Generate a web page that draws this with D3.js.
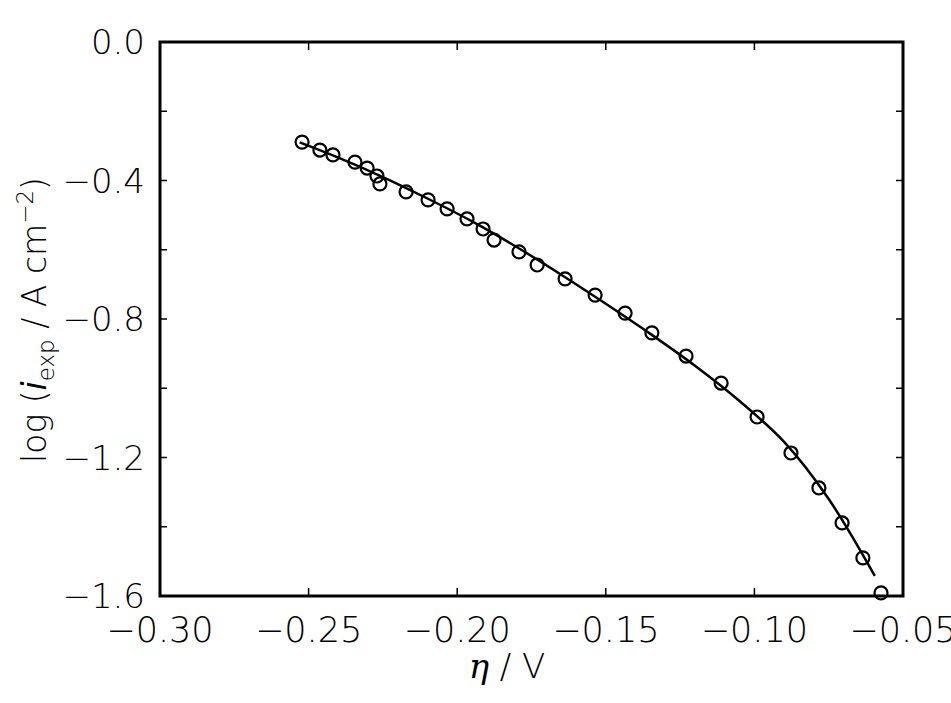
<!DOCTYPE html><html><head><meta charset="utf-8"><script src="https://cdn.jsdelivr.net/npm/d3@7"></script>
<style>body{margin:0;background:#fff}text{font-family:"DejaVu Sans",sans-serif;font-weight:200}</style></head><body><svg id="c" width="951" height="703"></svg>
<script>
const expX=[-0.2522,-0.2462,-0.2418,-0.2344,-0.2303,-0.2270,-0.2260,-0.2172,-0.2098,-0.2034,-0.1967,-0.1913,-0.1876,-0.1792,-0.1731,-0.1637,-0.1536,-0.1435,-0.1345,-0.1230,-0.1112,-0.0991,-0.0877,-0.0783,-0.0705,-0.0635,-0.0574];
const expY=[-0.289,-0.312,-0.326,-0.347,-0.364,-0.387,-0.410,-0.433,-0.456,-0.482,-0.511,-0.540,-0.572,-0.606,-0.644,-0.684,-0.731,-0.783,-0.840,-0.907,-0.985,-1.083,-1.187,-1.288,-1.389,-1.490,-1.591];
const fitX=[-0.253,-0.240,-0.225,-0.210,-0.195,-0.180,-0.165,-0.150,-0.135,-0.120,-0.105,-0.090,-0.075,-0.0595];
const fitY=[-0.290,-0.334,-0.390,-0.452,-0.518,-0.592,-0.672,-0.756,-0.843,-0.935,-1.037,-1.155,-1.320,-1.542];
const xTicks=[-0.30,-0.25,-0.20,-0.15,-0.10,-0.05];
const yTicks=[0.0,-0.4,-0.8,-1.2,-1.6];
const yMinor=[-0.2,-0.6,-1.0,-1.4];
const svg=d3.select("#c");
const x=d3.scaleLinear().domain([-0.30,-0.05]).range([160,903]);
const y=d3.scaleLinear().domain([-1.6,0]).range([596,42]);
const g=svg.append("g");
g.append("rect").attr("x",160).attr("y",42).attr("width",743).attr("height",554).attr("fill","none").attr("stroke","#000").attr("stroke-width",3);
const fmt=v=>(v<0?"\u2212":"")+Math.abs(v).toFixed(2);
xTicks.forEach(v=>{
 g.append("line").attr("x1",x(v)).attr("x2",x(v)).attr("y1",596).attr("y2",588).attr("stroke","#000").attr("stroke-width",1.5);
 g.append("line").attr("x1",x(v)).attr("x2",x(v)).attr("y1",42).attr("y2",50).attr("stroke","#000").attr("stroke-width",1.5);
 g.append("text").attr("x",x(v)).attr("y",642).attr("text-anchor","middle").attr("font-size",35).text(fmt(v));
});
yTicks.forEach(v=>{
 g.append("text").attr("x",145).attr("y",y(v)+12).attr("text-anchor","end").attr("font-size",34).text((v<0?"\u2212":"")+Math.abs(v).toFixed(1));
});
yTicks.concat(yMinor).forEach(v=>{
 g.append("line").attr("x1",160).attr("x2",167).attr("y1",y(v)).attr("y2",y(v)).attr("stroke","#000").attr("stroke-width",1.5);
 g.append("line").attr("x1",903).attr("x2",896).attr("y1",y(v)).attr("y2",y(v)).attr("stroke","#000").attr("stroke-width",1.5);
});
g.append("path").datum(fitX.map((v,i)=>[v,fitY[i]])).attr("fill","none").attr("stroke","#000").attr("stroke-width",2.5)
 .attr("d",d3.line().x(d=>x(d[0])).y(d=>y(d[1])).curve(d3.curveCatmullRom));
expX.forEach((v,i)=>g.append("circle").attr("cx",x(v)).attr("cy",y(expY[i])).attr("r",6.5).attr("fill","none").attr("stroke","#000").attr("stroke-width",2.2));
g.append("text").attr("x",507).attr("y",678).attr("text-anchor","middle").attr("font-size",34)
 .html('<tspan font-style="italic" font-family="DejaVu Serif">η</tspan> / V');
g.append("text").attr("transform","translate(46,320) rotate(-90)").attr("text-anchor","middle").attr("font-size",33)
 .html('log (<tspan font-style="italic">i</tspan><tspan font-size="23" dy="8">exp</tspan><tspan dy="-8"> / A cm</tspan><tspan font-size="23" dy="-13">\u22122</tspan><tspan dy="13">)</tspan>');
</script></body></html>
